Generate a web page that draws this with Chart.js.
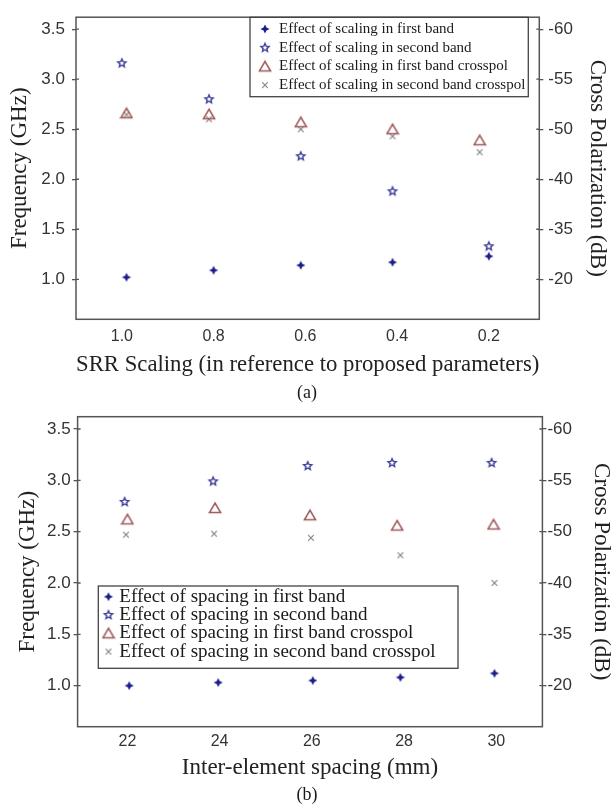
<!DOCTYPE html>
<html>
<head>
<meta charset="utf-8">
<title>SRR scaling / spacing</title>
<script src="https://cdn.jsdelivr.net/npm/chart.js"></script>
<style>
  html, body { margin: 0; padding: 0; background: #fff; }
  body { width: 615px; height: 808px; position: relative; overflow: hidden; }
  .wrap { position: absolute; left: 0; width: 615px; }
  #wrapA { top: 0; height: 405px; z-index: 2; }
  #wrapB { top: 392px; height: 416px; z-index: 1; }
</style>
</head>
<body>
<div class="wrap" id="wrapA"><canvas id="chartA" width="615" height="405"></canvas></div>
<div class="wrap" id="wrapB"><canvas id="chartB" width="615" height="416"></canvas></div>

<script>
// shared y ticks: left in GHz, right labels in dB (same tick positions)
const freqTicks = [1.0, 1.5, 2.0, 2.5, 3.0, 3.5];
const crossPolTicks = ['-20', '-35', '-40', '-50', '-55', '-60'];

// (a) SRR scaling
const scalingTicks = [1.0, 0.8, 0.6, 0.4, 0.2];
const scalingFirstX = [0.99, 0.80, 0.61, 0.41, 0.20];
const scalingFirstY = [1.02, 1.09, 1.14, 1.17, 1.23];
const scalingSecondX = [1.00, 0.81, 0.61, 0.41, 0.20];
const scalingSecondY = [3.16, 2.80, 2.23, 1.88, 1.33];
const scalingFirstXpolX = [0.99, 0.81, 0.61, 0.41, 0.22];
const scalingFirstXpolY = [2.66, 2.65, 2.57, 2.50, 2.39];
const scalingSecondXpolX = [0.99, 0.81, 0.61, 0.41, 0.22];
const scalingSecondXpolY = [2.645, 2.60, 2.50, 2.43, 2.27];

// (b) inter-element spacing
const spacingTicks = [22, 24, 26, 28, 30];
const spacingFirstX = [22.04, 23.97, 26.02, 27.92, 29.96];
const spacingFirstY = [1.00, 1.03, 1.05, 1.08, 1.12];
const spacingSecondX = [21.94, 23.86, 25.91, 27.74, 29.90];
const spacingSecondY = [2.79, 2.99, 3.14, 3.17, 3.17];
const spacingFirstXpolX = [22.00, 23.90, 25.96, 27.85, 29.94];
const spacingFirstXpolY = [2.62, 2.73, 2.66, 2.56, 2.57];
const spacingSecondXpolX = [21.97, 23.88, 25.98, 27.92, 29.96];
const spacingSecondXpolY = [2.47, 2.48, 2.44, 2.27, 2.00];

// marker images
function makeMarker(kind) {
    const c = document.createElement('canvas');
    c.width = 14; c.height = 14;
    const g = c.getContext('2d');
    g.translate(7, 7);
    if (kind === 'diamond') {
        g.fillStyle = '#1c1c8c';
        g.beginPath();
        g.moveTo(0, -4.6); g.lineTo(1.5, -1.5); g.lineTo(4.6, 0); g.lineTo(1.5, 1.5);
        g.lineTo(0, 4.6); g.lineTo(-1.5, 1.5); g.lineTo(-4.6, 0); g.lineTo(-1.5, -1.5);
        g.closePath(); g.fill();
    } else if (kind === 'star') {
        g.strokeStyle = '#3e3e98'; g.lineWidth = 1.4;
        g.beginPath();
        for (let i = 0; i < 10; i++) {
            const r = i % 2 === 0 ? 4.3 : 2.0;
            const a = -Math.PI / 2 + i * Math.PI / 5;
            const px = r * Math.cos(a), py = r * Math.sin(a);
            if (i === 0) g.moveTo(px, py); else g.lineTo(px, py);
        }
        g.closePath(); g.stroke();
    } else if (kind === 'triangle') {
        g.strokeStyle = '#a0585a'; g.lineWidth = 1.5;
        g.beginPath();
        g.moveTo(0, -5); g.lineTo(5.6, 4.6); g.lineTo(-5.6, 4.6);
        g.closePath(); g.stroke();
    } else {
        g.strokeStyle = '#858585'; g.lineWidth = 1.2;
        g.beginPath();
        g.moveTo(-2.8, -2.8); g.lineTo(2.8, 2.8); g.moveTo(2.8, -2.8); g.lineTo(-2.8, 2.8);
        g.stroke();
    }
    return c;
}
const mDiamond = makeMarker('diamond');
const mStar = makeMarker('star');
const mTriangle = makeMarker('triangle');
const mCross = makeMarker('cross');

function pts(xs, ys) {
    return xs.map((x, i) => ({ x: x, y: ys[i] }));
}

function ds(label, xs, ys, marker) {
    return { label: label, data: pts(xs, ys), pointStyle: marker, pointRadius: 6, showLine: false };
}

// frame, inner tick stubs, in-plot legend and caption
const framePlugin = {
    id: 'frame',
    afterDraw(chart, args, opts) {
        const { ctx, chartArea: a } = chart;
        ctx.save();
        ctx.strokeStyle = '#555';
        ctx.lineWidth = 1.5;
        ctx.strokeRect(a.left, a.top, a.right - a.left, a.bottom - a.top);

        ctx.lineWidth = 1.3;
        freqTicks.forEach(v => {
            const y = chart.scales.y.getPixelForValue(v);
            ctx.beginPath();
            ctx.moveTo(a.left, y); ctx.lineTo(a.left + 3, y);
            ctx.moveTo(a.right, y); ctx.lineTo(a.right - 3, y);
            ctx.stroke();
        });

        const lg = opts.legend;
        ctx.strokeStyle = '#444';
        ctx.lineWidth = 1.3;
        ctx.strokeRect(lg.box[0], lg.box[1], lg.box[2] - lg.box[0], lg.box[3] - lg.box[1]);
        ctx.font = lg.font;
        ctx.fillStyle = '#1a1a1a';
        ctx.textBaseline = 'middle';
        ctx.textAlign = 'left';
        chart.data.datasets.forEach((d, i) => {
            const y = lg.rowTop + i * lg.rowGap;
            const img = d.pointStyle;
            ctx.drawImage(img, lg.markerX - img.width / 2, y - img.height / 2);
            ctx.fillText(d.label, lg.textX, y);
        });

        ctx.font = '18px "Liberation Serif"';
        ctx.textAlign = 'center';
        ctx.fillText(opts.caption, opts.captionX, opts.captionY);
        ctx.restore();
    }
};

function buildOptions(cfg) {
    const tickFont = { family: 'Liberation Sans', size: 17 };
    const titleFont = { family: 'Liberation Serif', size: 23 };
    const yCommon = {
        type: 'linear',
        min: 0.6,
        max: 3.62,
        afterBuildTicks: s => { s.ticks = freqTicks.map(v => ({ value: v })); },
        grid: { drawOnChartArea: false, tickLength: 4, color: '#555', lineWidth: 1.3 },
        border: { display: false }
    };
    return {
        responsive: false,
        animation: false,
        layout: { padding: { top: cfg.padTop, bottom: cfg.padBottom, left: 0, right: 0 } },
        plugins: {
            legend: { display: false },
            tooltip: { enabled: false },
            frame: { legend: cfg.legend, caption: cfg.caption, captionX: 307, captionY: cfg.captionY }
        },
        scales: {
            x: {
                type: 'linear',
                reverse: cfg.reverse,
                min: cfg.xMin,
                max: cfg.xMax,
                afterBuildTicks: s => { s.ticks = cfg.xTicks.map(v => ({ value: v })); },
                ticks: { callback: cfg.xFormat, font: { family: 'Liberation Sans', size: 16 }, color: '#333', padding: cfg.xTickPad, maxRotation: 0, autoSkip: false },
                grid: { display: false, drawTicks: false },
                border: { display: false },
                title: { display: true, text: cfg.xTitle, font: titleFont, color: '#222', padding: { top: 0, bottom: 0 } },
                afterFit: s => { s.height = cfg.xAxisH; }
            },
            y: Object.assign({}, yCommon, {
                position: 'left',
                ticks: { callback: v => v.toFixed(1), font: tickFont, color: '#333', padding: cfg.yTickPad },
                title: { display: true, text: 'Frequency (GHz)', font: titleFont, color: '#222', padding: { top: cfg.yTitlePad, bottom: 0 } },
                afterFit: s => { s.width = cfg.left; }
            }),
            y2: Object.assign({}, yCommon, {
                position: 'right',
                ticks: { callback: v => crossPolTicks[freqTicks.indexOf(v)], font: tickFont, color: '#333', padding: cfg.y2TickPad },
                title: { display: true, text: 'Cross Polarization (dB)', font: titleFont, color: '#222', padding: { top: cfg.y2TitlePad, bottom: 0 } },
                afterFit: s => { s.width = 615 - cfg.right; }
            })
        }
    };
}

new Chart(document.getElementById('chartA'), {
    type: 'scatter',
    data: {
        datasets: [
            ds('Effect of scaling in first band', scalingFirstX, scalingFirstY, mDiamond),
            ds('Effect of scaling in second band', scalingSecondX, scalingSecondY, mStar),
            ds('Effect of scaling in first band crosspol', scalingFirstXpolX, scalingFirstXpolY, mTriangle),
            ds('Effect of scaling in second band crosspol', scalingSecondXpolX, scalingSecondXpolY, mCross)
        ]
    },
    options: buildOptions({
        reverse: true, xMin: 0.09, xMax: 1.1, xTicks: scalingTicks, xFormat: v => v.toFixed(1),
        xTitle: 'SRR Scaling (in reference to proposed parameters)',
        padTop: 9.3, padBottom: 26.2, xAxisH: 59.5, xTickPad: 7.8,
        left: 76, right: 539.3, yTickPad: 7, yTitlePad: 5.8, y2TickPad: 5, y2TitlePad: 4.2,
        legend: { box: [250, 17.3, 528.3, 96.7], rowTop: 29, rowGap: 18.7, markerX: 265, textX: 279, font: '15px "Liberation Serif"' },
        caption: '(a)', captionY: 393
    }),
    plugins: [framePlugin]
});

new Chart(document.getElementById('chartB'), {
    type: 'scatter',
    data: {
        datasets: [
            ds('Effect of spacing in first band', spacingFirstX, spacingFirstY, mDiamond),
            ds('Effect of spacing in second band', spacingSecondX, spacingSecondY, mStar),
            ds('Effect of spacing in first band crosspol', spacingFirstXpolX, spacingFirstXpolY, mTriangle),
            ds('Effect of spacing in second band crosspol', spacingSecondXpolX, spacingSecondXpolY, mCross)
        ]
    },
    options: buildOptions({
        reverse: false, xMin: 20.92, xMax: 31.0, xTicks: spacingTicks, xFormat: v => String(v),
        xTitle: 'Inter-element spacing (mm)',
        padTop: 24.7, padBottom: 25.9, xAxisH: 55.4, xTickPad: 5.4,
        left: 77.6, right: 542.4, yTickPad: 3, yTitlePad: 13.7, y2TickPad: 1, y2TitlePad: 0,
        legend: { box: [98.3, 194, 458, 276.3], rowTop: 204.7, rowGap: 18.3, markerX: 108.5, textX: 119.3, font: '19px "Liberation Serif"' },
        caption: '(b)', captionY: 403
    }),
    plugins: [framePlugin]
});
</script>
</body>
</html>
